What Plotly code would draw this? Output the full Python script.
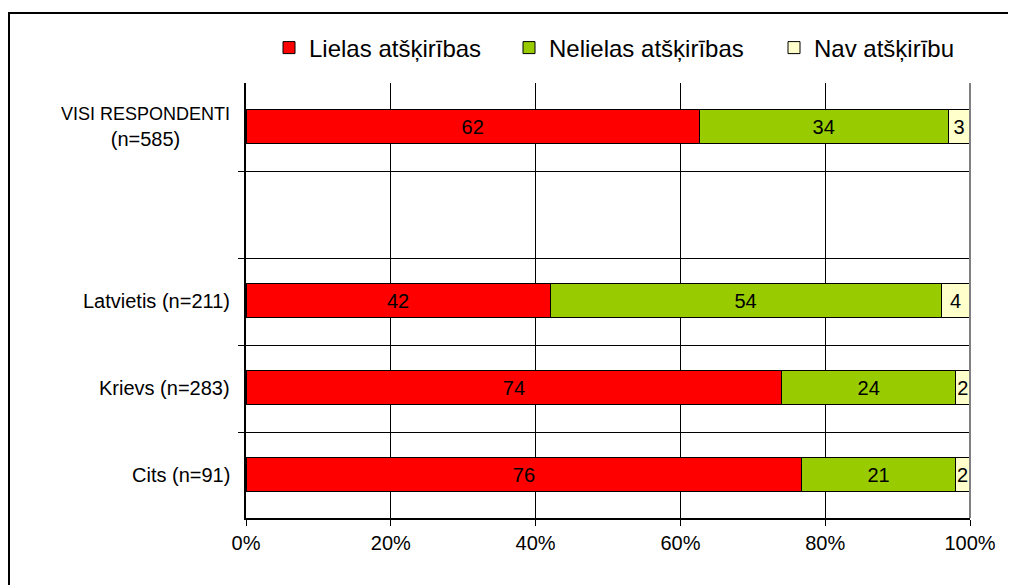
import plotly.graph_objects as go

categories = ["VISI RESPONDENTI<br>(n=585)", " ", "Latvietis (n=211)", "Krievs (n=283)", "Cits (n=91)"]
category_labels = ['<span style="font-size:18px">VISI RESPONDENTI</span><br>(n=585)', "",
                   "Latvietis (n=211)", "Krievs (n=283)", "Cits (n=91)"]
series_names = ["Lielas atšķirības", "Nelielas atšķirības", "Nav atšķirību"]
lielas = [62, None, 42, 74, 76]
nelielas = [34, None, 54, 24, 21]
nav = [3, None, 4, 2, 2]
x_ticks = [0, 20, 40, 60, 80, 100]
x_tick_labels = ["0%", "20%", "40%", "60%", "80%", "100%"]

colors = ["#FF0000", "#99CC00", "#FFFFCC"]
legend_ids = ["legend", "legend2", "legend3"]
FONT = "Liberation Sans, Arial, sans-serif"

# page body has an 8px margin, so the figure is sized to fill the rest
W, H = 1008, 577
L, R, T, B = 238, 46, 75, 67
pw, ph = W - L - R, H - T - B
slot = ph / len(categories)

fig = go.Figure()
for name, vals, col, lg in zip(series_names, [lielas, nelielas, nav], colors, legend_ids):
    fig.add_trace(go.Bar(
        y=categories, x=vals, name=name, orientation="h", legend=lg,
        marker=dict(color=col, line=dict(color="black", width=1)),
        text=[("" if v is None else str(v)) for v in vals],
        textposition="inside", insidetextanchor="middle", textangle=0,
        constraintext="none",
        textfont=dict(family=FONT, size=20, color="black"),
        width=0.39,
    ))

shapes = []
for k in range(len(categories) - 1):
    yy = k + 0.5 + 1.5 / slot
    shapes.append(dict(type="line", xref="paper", yref="y",
                       x0=-8 / pw, x1=1, y0=yy, y1=yy,
                       line=dict(color="black", width=1), layer="below"))
shapes.append(dict(type="line", xref="paper", yref="paper", x0=1, x1=1, y0=0, y1=1,
                   line=dict(color="#808080", width=2)))
shapes.append(dict(type="rect", xref="paper", yref="paper",
                   x0=(1 - L) / pw, x1=(W + 20 - L) / pw,
                   y0=-(B + 20) / ph, y1=(H - B - 5) / ph,
                   line=dict(color="black", width=2), fillcolor="rgba(0,0,0,0)", layer="below"))

annotations = []
for c, lab in zip(categories, category_labels):
    if lab:
        annotations.append(dict(text=lab, xref="paper", yref="y", x=0, y=c,
                                xanchor="right", yanchor="middle", xshift=-14,
                                align="center", showarrow=False,
                                font=dict(family=FONT, size=20, color="black")))

legend_x = [261, 501, 766]
legend_common = dict(orientation="h", xref="container", yref="container",
                     y=1 - 40 / H, xanchor="left", yanchor="middle",
                     font=dict(family=FONT, size=24, color="black"),
                     itemwidth=30, bgcolor="rgba(0,0,0,0)")

fig.update_layout(
    width=W, height=H,
    margin=dict(l=L, r=R, t=T, b=B),
    barmode="stack", barnorm="percent",
    paper_bgcolor="white", plot_bgcolor="white",
    font=dict(family=FONT, size=20, color="black"),
    showlegend=True,
    legend=dict(x=legend_x[0] / W, **legend_common),
    legend2=dict(x=legend_x[1] / W, **legend_common),
    legend3=dict(x=legend_x[2] / W, **legend_common),
    xaxis=dict(range=[0, 100], tickvals=x_ticks, ticktext=x_tick_labels,
               showgrid=True, gridcolor="black", gridwidth=1,
               showline=True, linecolor="black", linewidth=2,
               ticks="outside", ticklen=6, tickcolor="black",
               tickfont=dict(family=FONT, size=20, color="black"),
               zeroline=False, fixedrange=True),
    yaxis=dict(categoryorder="array", categoryarray=categories,
               autorange="reversed", showticklabels=False,
               showgrid=False, showline=True, linecolor="black", linewidth=1.5,
               ticks="", zeroline=False),
    shapes=shapes, annotations=annotations,
)

fig.write_html("out.html")
